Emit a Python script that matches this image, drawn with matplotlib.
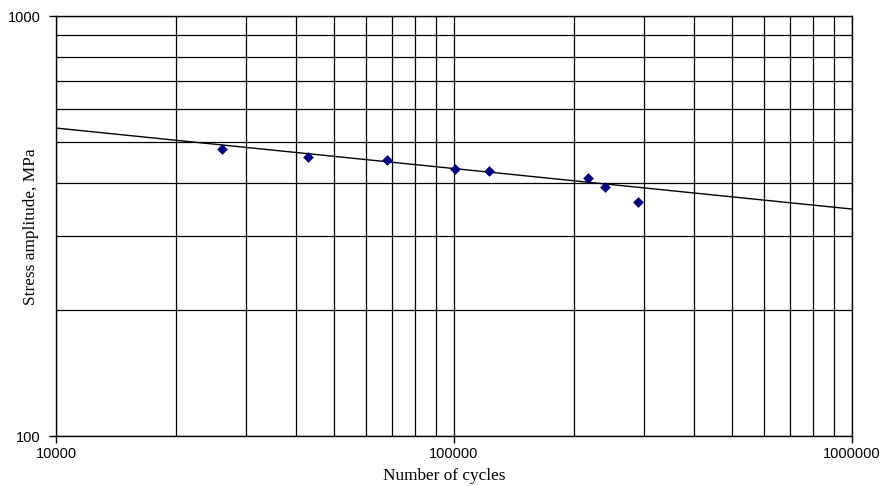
import matplotlib
matplotlib.use("Agg")
import matplotlib.pyplot as plt
from matplotlib.ticker import LogLocator, FixedLocator, NullFormatter, FixedFormatter

# test points
cycles = [26100, 42850, 68000, 100300, 122700, 217600, 240000, 290000]
stress = [482, 461, 454, 432, 428, 411, 392, 361]

# power trend line (endpoints read at the axis limits)
trend_x = [10000, 1000000]
trend_y = [541, 347]

x_ticks = [10000, 100000, 1000000]
x_labels = ["10000", "100000", "1000000"]
y_ticks = [100, 1000]
y_labels = ["100", "1000"]

fig = plt.figure(figsize=(8.8, 4.86), dpi=100, facecolor="w")
ax = fig.add_axes([56 / 880, 1 - 436 / 486, 796 / 880, 420 / 486])

ax.set_xscale("log")
ax.set_yscale("log")
ax.set_xlim(1e4, 1e6)
ax.set_ylim(100, 1000)

ax.plot(trend_x, trend_y, color="black", linewidth=1.0, zorder=3)
ax.scatter(cycles, stress, marker="D", s=30, color="#000080", zorder=4, linewidths=0)

ax.xaxis.set_major_locator(FixedLocator(x_ticks))
ax.xaxis.set_major_formatter(FixedFormatter(x_labels))
ax.xaxis.set_minor_locator(LogLocator(base=10, subs=range(2, 10)))
ax.xaxis.set_minor_formatter(NullFormatter())
ax.yaxis.set_major_locator(FixedLocator(y_ticks))
ax.yaxis.set_major_formatter(FixedFormatter(y_labels))
ax.yaxis.set_minor_locator(LogLocator(base=10, subs=range(2, 10)))
ax.yaxis.set_minor_formatter(NullFormatter())

ax.grid(True, which="both", color="black", linewidth=0.9)
ax.set_axisbelow(True)
for s in ax.spines.values():
    s.set_color("black")
    s.set_linewidth(1.0)

ax.tick_params(which="major", direction="out", length=5, width=1, labelsize=10.5,
               colors="black")
ax.tick_params(axis="y", which="major", pad=6)
ax.tick_params(axis="x", which="major", pad=3)
ax.tick_params(which="minor", length=0)
for lab in ax.get_xticklabels() + ax.get_yticklabels():
    lab.set_fontfamily("Liberation Sans")

ax.set_xlabel("Number of cycles", fontfamily="Liberation Serif", fontsize=12.4)
ax.set_ylabel("Stress amplitude, MPa", fontfamily="Liberation Serif", fontsize=12.4)
ax.xaxis.set_label_coords(0.488, -0.0945)
ax.yaxis.set_label_coords(-0.031, 0.4976)
ax.xaxis.label.set_verticalalignment("center")
ax.yaxis.label.set_verticalalignment("center")

fig.savefig("out.png", dpi=100)
